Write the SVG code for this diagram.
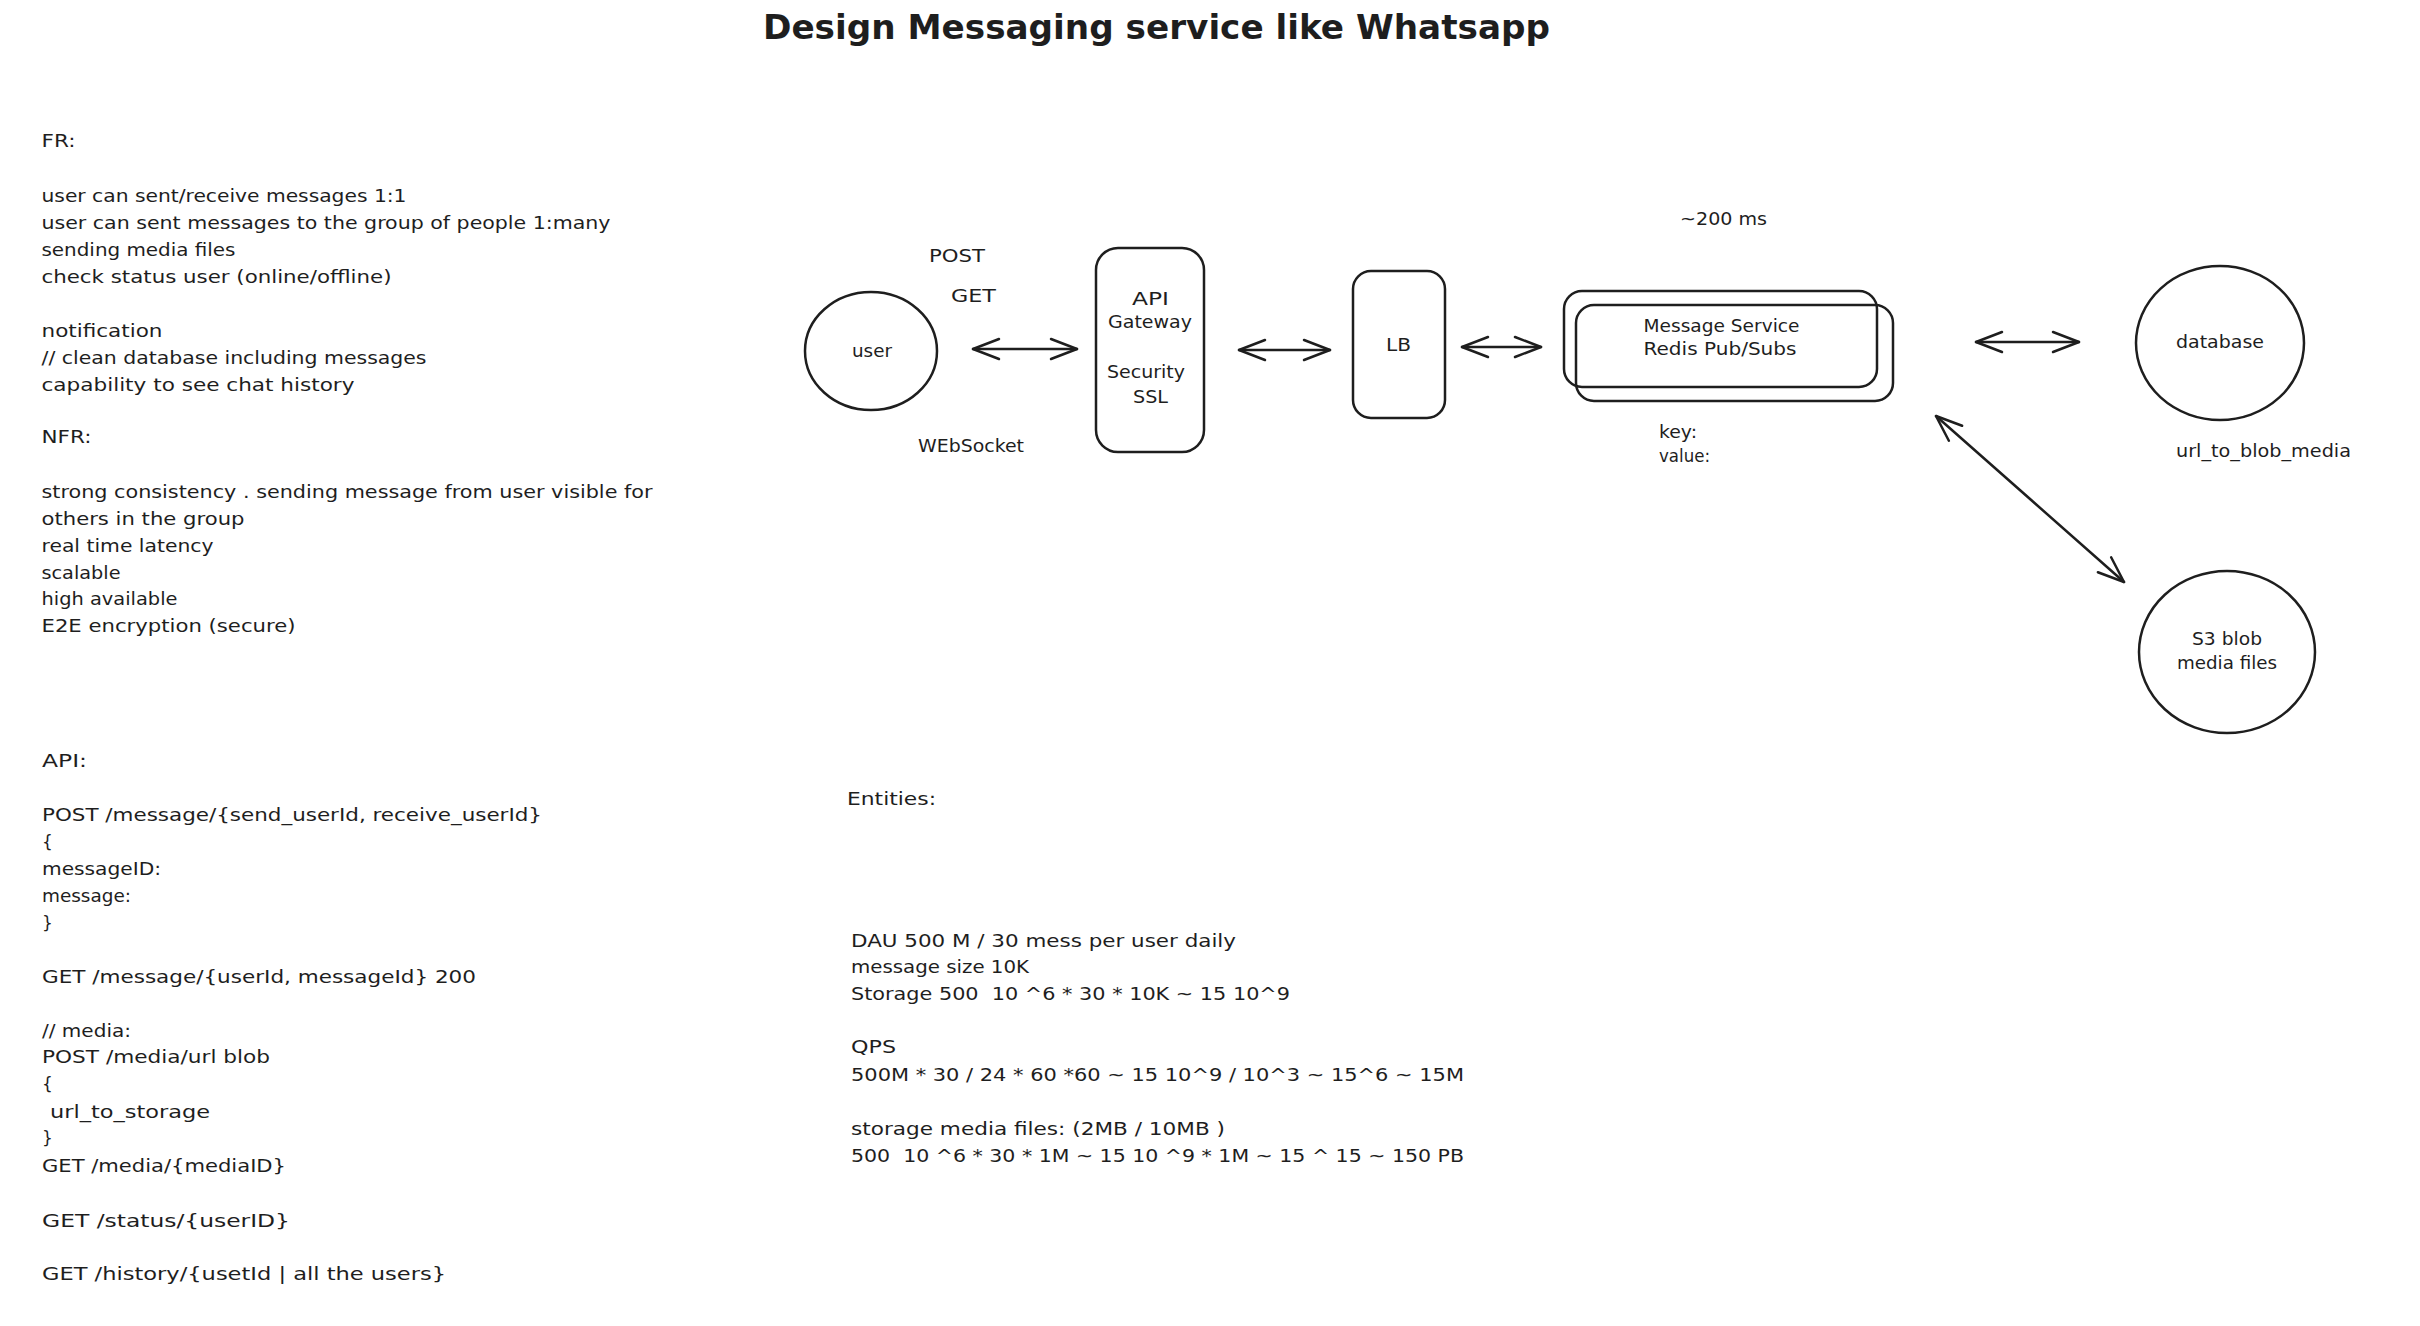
<svg xmlns="http://www.w3.org/2000/svg" width="2420" height="1326" viewBox="0 0 2420 1326">
<style>
.t{font-family:"DejaVu Sans","Liberation Sans",sans-serif;font-size:17px;fill:#1e1e1e;white-space:pre}
.title{font-family:"DejaVu Sans","Liberation Sans",sans-serif;font-size:34px;font-weight:bold;fill:#1e1e1e}
.s{fill:none;stroke:#1e1e1e;stroke-width:2.5;stroke-linecap:round;stroke-linejoin:round}
</style>
<defs>
<marker id="arr" markerUnits="userSpaceOnUse" markerWidth="60" markerHeight="60" viewBox="-30 -30 60 60" refX="0" refY="0" orient="auto-start-reverse" overflow="visible">
<path d="M-26,-10 L0,0 L-26,10" fill="none" stroke="#1e1e1e" stroke-width="2.5" stroke-linecap="round" stroke-linejoin="round"/>
</marker>
</defs>
<rect width="2420" height="1326" fill="#ffffff"/>

<text class="title" x="763" y="39" textLength="787" lengthAdjust="spacingAndGlyphs">Design Messaging service like Whatsapp</text>

<g id="fr-notes">
<text class="t" x="41.5" y="147" textLength="34" lengthAdjust="spacingAndGlyphs">FR:</text>
<text class="t" x="41.5" y="202" textLength="365" lengthAdjust="spacingAndGlyphs">user can sent/receive messages 1:1</text>
<text class="t" x="41.5" y="229" textLength="569" lengthAdjust="spacingAndGlyphs">user can sent messages to the group of people 1:many</text>
<text class="t" x="41.5" y="256" textLength="194" lengthAdjust="spacingAndGlyphs">sending media files</text>
<text class="t" x="41.5" y="283" textLength="350" lengthAdjust="spacingAndGlyphs">check status user (online/offline)</text>
<text class="t" x="41.5" y="337" textLength="121" lengthAdjust="spacingAndGlyphs">notification</text>
<text class="t" x="41.5" y="364" textLength="385" lengthAdjust="spacingAndGlyphs">// clean database including messages</text>
<text class="t" x="41.5" y="391" textLength="313" lengthAdjust="spacingAndGlyphs">capability to see chat history</text>
</g>

<g id="nfr-notes">
<text class="t" x="41.5" y="443" textLength="50" lengthAdjust="spacingAndGlyphs">NFR:</text>
<text class="t" x="41.5" y="498" textLength="611" lengthAdjust="spacingAndGlyphs">strong consistency . sending message from user visible for</text>
<text class="t" x="41.5" y="525" textLength="203" lengthAdjust="spacingAndGlyphs">others in the group</text>
<text class="t" x="41.5" y="552" textLength="172" lengthAdjust="spacingAndGlyphs">real time latency</text>
<text class="t" x="41.5" y="579" textLength="79" lengthAdjust="spacingAndGlyphs">scalable</text>
<text class="t" x="41.5" y="605" textLength="136" lengthAdjust="spacingAndGlyphs">high available</text>
<text class="t" x="41.5" y="632" textLength="254" lengthAdjust="spacingAndGlyphs">E2E encryption (secure)</text>
</g>

<g id="api-notes">
<text class="t" x="42" y="767" textLength="45" lengthAdjust="spacingAndGlyphs">API:</text>
<text class="t" x="42" y="821" textLength="500" lengthAdjust="spacingAndGlyphs">POST /message/{send_userId, receive_userId}</text>
<text class="t" x="42" y="848">{</text>
<text class="t" x="42" y="875" textLength="119" lengthAdjust="spacingAndGlyphs">messageID:</text>
<text class="t" x="42" y="902" textLength="89" lengthAdjust="spacingAndGlyphs">message:</text>
<text class="t" x="42" y="929">}</text>
<text class="t" x="42" y="983" textLength="434" lengthAdjust="spacingAndGlyphs">GET /message/{userId, messageId} 200</text>
<text class="t" x="42" y="1037" textLength="89" lengthAdjust="spacingAndGlyphs">// media:</text>
<text class="t" x="42" y="1063" textLength="228" lengthAdjust="spacingAndGlyphs">POST /media/url blob</text>
<text class="t" x="42" y="1090">{</text>
<text class="t" x="50" y="1118" textLength="160" lengthAdjust="spacingAndGlyphs">url_to_storage</text>
<text class="t" x="42" y="1144">}</text>
<text class="t" x="42" y="1172" textLength="244" lengthAdjust="spacingAndGlyphs">GET /media/{mediaID}</text>
<text class="t" x="42" y="1227" textLength="248" lengthAdjust="spacingAndGlyphs">GET /status/{userID}</text>
<text class="t" x="42" y="1280" textLength="404" lengthAdjust="spacingAndGlyphs">GET /history/{usetId | all the users}</text>
</g>

<g id="estimates">
<text class="t" x="847" y="805" textLength="89" lengthAdjust="spacingAndGlyphs">Entities:</text>
<text class="t" x="851" y="947" textLength="385" lengthAdjust="spacingAndGlyphs">DAU 500 M / 30 mess per user daily</text>
<text class="t" x="851" y="973" textLength="178" lengthAdjust="spacingAndGlyphs">message size 10K</text>
<text class="t" x="851" y="1000" textLength="439" lengthAdjust="spacingAndGlyphs">Storage 500  10 ^6 * 30 * 10K ~ 15 10^9</text>
<text class="t" x="851" y="1053" textLength="45" lengthAdjust="spacingAndGlyphs">QPS</text>
<text class="t" x="851" y="1081" textLength="613" lengthAdjust="spacingAndGlyphs">500M * 30 / 24 * 60 *60 ~ 15 10^9 / 10^3 ~ 15^6 ~ 15M</text>
<text class="t" x="851" y="1135" textLength="374" lengthAdjust="spacingAndGlyphs">storage media files: (2MB / 10MB )</text>
<text class="t" x="851" y="1162" textLength="613" lengthAdjust="spacingAndGlyphs">500  10 ^6 * 30 * 1M ~ 15 10 ^9 * 1M ~ 15 ^ 15 ~ 150 PB</text>
</g>

<g id="connectors">
<path class="s" d="M973,349 L1077,349" marker-start="url(#arr)" marker-end="url(#arr)"/>
<path class="s" d="M1239,350 L1330,350" marker-start="url(#arr)" marker-end="url(#arr)"/>
<path class="s" d="M1462,347 L1541,347" marker-start="url(#arr)" marker-end="url(#arr)"/>
<path class="s" d="M1976,342 L2079,342" marker-start="url(#arr)" marker-end="url(#arr)"/>
<path class="s" d="M1936,416 L2124,582" marker-start="url(#arr)" marker-end="url(#arr)"/>
</g>

<g id="connector-labels">
<text class="t" x="929" y="262" textLength="56" lengthAdjust="spacingAndGlyphs">POST</text>
<text class="t" x="951" y="302" textLength="45" lengthAdjust="spacingAndGlyphs">GET</text>
<text class="t" x="918" y="452" textLength="106" lengthAdjust="spacingAndGlyphs">WEbSocket</text>
<text class="t" x="1680" y="225" textLength="87" lengthAdjust="spacingAndGlyphs">~200 ms</text>
<text class="t" x="1659" y="438" textLength="38" lengthAdjust="spacingAndGlyphs">key:</text>
<text class="t" x="1659" y="462" textLength="51" lengthAdjust="spacingAndGlyphs">value:</text>
<text class="t" x="2176" y="457" textLength="175" lengthAdjust="spacingAndGlyphs">url_to_blob_media</text>
</g>

<g id="user">
<ellipse class="s" cx="871" cy="351" rx="66" ry="59"/>
<text class="t" x="852" y="357" textLength="40" lengthAdjust="spacingAndGlyphs">user</text>
</g>

<g id="api-gateway">
<rect class="s" x="1096" y="248" width="108" height="204" rx="22"/>
<text class="t" x="1132" y="305" textLength="37" lengthAdjust="spacingAndGlyphs">API</text>
<text class="t" x="1108" y="328" textLength="84" lengthAdjust="spacingAndGlyphs">Gateway</text>
<text class="t" x="1107" y="378" textLength="78" lengthAdjust="spacingAndGlyphs">Security</text>
<text class="t" x="1133" y="403" textLength="35" lengthAdjust="spacingAndGlyphs">SSL</text>
</g>

<g id="lb">
<rect class="s" x="1353" y="271" width="92" height="147" rx="18"/>
<text class="t" x="1386" y="351" textLength="25" lengthAdjust="spacingAndGlyphs">LB</text>
</g>

<g id="message-service">
<rect class="s" x="1564" y="291" width="313" height="96" rx="18"/>
<rect class="s" x="1576" y="305" width="317" height="96" rx="18"/>
<text class="t" x="1643.5" y="332" textLength="156" lengthAdjust="spacingAndGlyphs">Message Service</text>
<text class="t" x="1643.5" y="355" textLength="153" lengthAdjust="spacingAndGlyphs">Redis Pub/Subs</text>
</g>

<g id="database">
<ellipse class="s" cx="2220" cy="343" rx="84" ry="77"/>
<text class="t" x="2176" y="348" textLength="88" lengthAdjust="spacingAndGlyphs">database</text>
</g>

<g id="s3-blob">
<ellipse class="s" cx="2227" cy="652" rx="88" ry="81"/>
<text class="t" x="2192" y="645" textLength="70" lengthAdjust="spacingAndGlyphs">S3 blob</text>
<text class="t" x="2177" y="669" textLength="100" lengthAdjust="spacingAndGlyphs">media files</text>
</g>
</svg>
